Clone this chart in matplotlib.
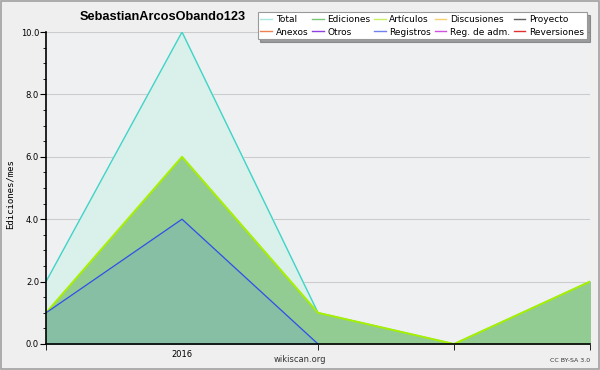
import numpy as np
import matplotlib
matplotlib.use("Agg")
import matplotlib.pyplot as plt
from matplotlib.lines import Line2D
from matplotlib.patches import Rectangle

# ----------------------------
# Data (ediciones por mes)
# ----------------------------
x_pos = [0, 1, 2, 3, 4]
total = [2, 10, 1, 0, 2]
articulos = [1, 6, 1, 0, 2]
registros_x = [0, 1, 2]
registros = [1, 4, 0]

legend_names = ["Total", "Ediciones", "Artículos", "Discusiones", "Proyecto",
                "Anexos", "Otros", "Registros", "Reg. de adm.", "Reversiones"]
legend_colors = ["#a8e8e0", "#78c878", "#c8f060", "#f8d070", "#606060",
                 "#f08050", "#9040e0", "#7080f0", "#d050e0", "#e03030"]

fig = plt.figure(figsize=(6, 3.7), dpi=100)
fig.patch.set_facecolor("#efefef")
fig.patches.append(Rectangle((0.002, 0.003), 0.996, 0.994, transform=fig.transFigure,
                             fill=False, edgecolor="#a0a0a0", linewidth=1.2))

ax = fig.add_axes([0.0767, 0.0703, 0.9066, 0.8432])
ax.set_facecolor("#eff0f2")

# fills
ax.fill_between(x_pos, total, color="#d9f1ea", zorder=1)
ax.plot(x_pos, total, color="#40d4c8", linewidth=1, zorder=4)
ax.fill_between(x_pos, articulos, color="#92cc92", zorder=2)
ax.plot(x_pos, articulos, color="#a8f000", linewidth=1.4, zorder=5)
ax.fill_between(registros_x, registros, color="#86bfa4", zorder=3)
ax.plot(registros_x, registros, color="#3050e8", linewidth=0.9, zorder=6)

ax.set_xlim(0, 4)
ax.set_ylim(0, 10)
ax.set_yticks(np.arange(0, 10.1, 2))
ax.set_yticklabels([f"{v:.1f}" for v in np.arange(0, 10.1, 2)], fontsize=6)
ax.set_yticks(np.arange(0, 10.1, 0.5), minor=True)
ax.yaxis.grid(True, color="#cccccc", linewidth=0.8)
ax.set_axisbelow(True)
ax.set_xticks([1])
ax.set_xticklabels(["2016"], fontsize=6)
ax.tick_params(axis="x", which="major", length=0, pad=4)
ax.set_xticks([0, 2, 3, 4], minor=True)
ax.tick_params(axis="x", which="minor", length=4)
ax.tick_params(axis="y", which="major", length=4, pad=1)
ax.tick_params(axis="y", which="minor", length=2)
for s in ["top", "right"]:
    ax.spines[s].set_visible(False)
for s in ["left", "bottom"]:
    ax.spines[s].set_linewidth(1.2)
    ax.spines[s].set_zorder(10)

fig.text(10 / 600, 1 - 194 / 370, "Ediciones/mes", fontsize=6.5, family="DejaVu Sans Mono",
         rotation=90, ha="center", va="center")

fig.text(163 / 600, 1 - 17 / 370, "SebastianArcosObando123", fontsize=9.2, fontweight="bold",
         family="Liberation Sans", ha="center", va="center")
fig.text(300 / 600, 1 - 360 / 370, "wikiscan.org", fontsize=6, ha="center", va="center",
         color="#333333")
fig.text(570 / 600, 1 - 361 / 370, "CC BY-SA 3.0", fontsize=4.5, ha="center", va="center",
         color="#333333")

# legend
handles = [Line2D([0], [0], color=c, linewidth=1) for c in legend_colors]
order = []
for i in range(5):
    order += [i, i + 5]
leg = fig.legend([handles[i] for i in order], [legend_names[i] for i in order],
                 ncol=5, loc="upper right", bbox_to_anchor=(0.978, 0.967),
                 fontsize=6.5, frameon=True, fancybox=False, shadow=True,
                 handlelength=1.3, handletextpad=0.4, columnspacing=0.4,
                 labelspacing=0.4, borderpad=0.3, borderaxespad=0)
leg.get_frame().set_edgecolor("#999999")
leg.get_frame().set_linewidth(0.8)

fig.savefig("out.png", dpi=100, facecolor=fig.get_facecolor())
